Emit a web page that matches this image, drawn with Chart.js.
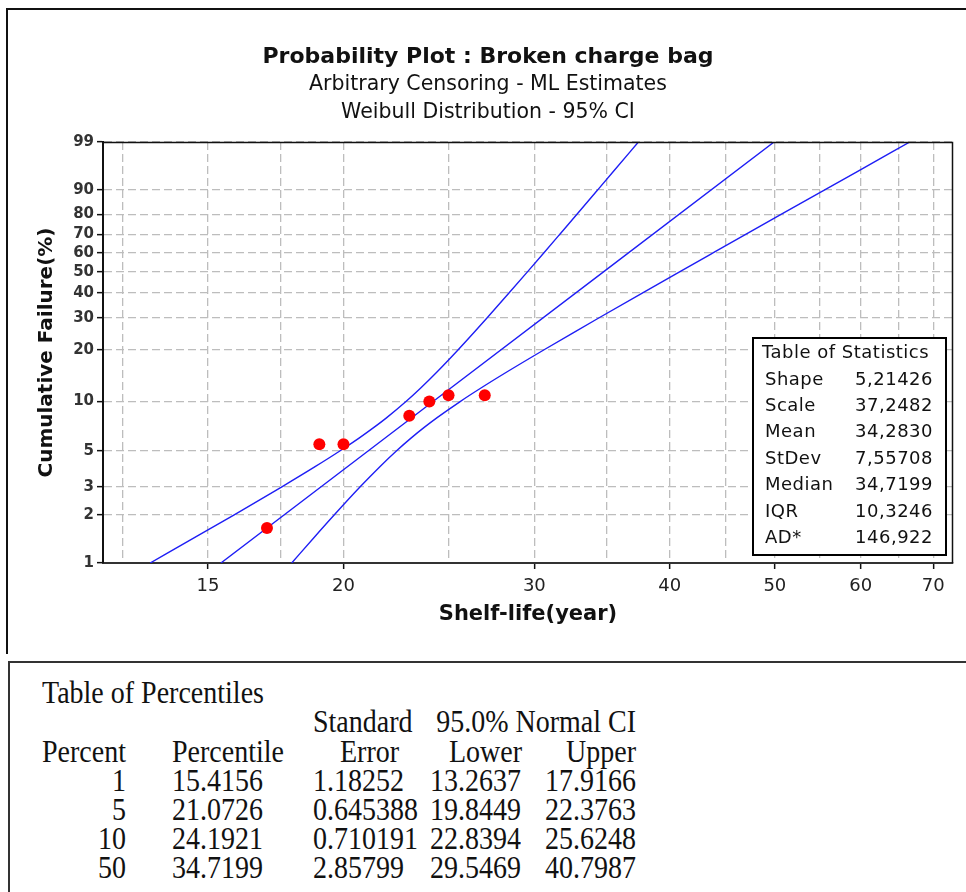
<!DOCTYPE html>
<html>
<head>
<meta charset="utf-8">
<title>Probability Plot : Broken charge bag</title>
<script src="https://cdn.jsdelivr.net/npm/chart.js@4.4.1/dist/chart.umd.min.js"></script>
<style>
  html, body { margin: 0; padding: 0; background: #fff; }
  body { width: 966px; height: 892px; position: relative; overflow: hidden; }
  #plotPanel {
    position: absolute; left: 6px; top: 8px; width: 980px; height: 644px;
    border-top: 2px solid #111; border-left: 2px solid #111;
  }
  #tablePanel {
    position: absolute; left: 8px; top: 661px; width: 980px; height: 260px;
    border-top: 2px solid #333; border-left: 2px solid #333;
  }
  #chart { position: absolute; left: 0; top: 0; }
  .cell {
    position: absolute; font-family: "Liberation Serif", "DejaVu Serif", serif;
    font-size: 28px; line-height: 29px; white-space: nowrap; color: #111;
    transform: scaleY(1.1);
  }
</style>
</head>
<body>
<div id="plotPanel"></div>
<div id="tablePanel"></div>
<canvas id="chart" width="966" height="652"></canvas>
<div id="cells"></div>
<script>
  // Observed failures (time in years, median rank in %)
  const obsTime = [17, 19, 20, 23, 24, 25, 27];
  const obsPct = [1.66, 5.5, 5.5, 8.2, 10.0, 10.9, 10.9];

  // Table of Percentiles (from the session output)
  const tablePercent = [1, 5, 10, 50];
  const tablePercentile = [15.4156, 21.0726, 24.1921, 34.7199];
  const tableStdErr = [1.18252, 0.645388, 0.710191, 2.85799];
  const tableLower = [13.2637, 19.8449, 22.8394, 29.5469];
  const tableUpper = [17.9166, 22.3763, 25.6248, 40.7987];

  // Fitted Weibull line (straight on this paper), ends at 99%
  const fitPct = [1, 5, 10, 50, 99];
  const fitTime = [15.4156, 21.0726, 24.1921, 34.7199, 49.92];

  // 95% confidence band
  const bandPct = [1, 1.5, 2, 3, 4, 5, 6, 7, 8, 10, 12, 15, 20, 25, 30, 40, 50, 60, 70, 80, 90, 95, 99];
  const bandLower = [13.264, 14.721, 15.843, 17.547, 18.829, 19.845, 20.672, 21.352, 21.926,
    22.839, 23.553, 24.405, 25.506, 26.387, 27.140, 28.424, 29.547, 30.605, 31.670, 32.840,
    34.337, 35.478, 37.419];
  const bandUpper = [17.917, 18.878, 19.607, 20.722, 21.607, 22.376, 23.084, 23.757, 24.402,
    25.625, 26.761, 28.318, 30.600, 32.605, 34.426, 37.727, 40.799, 43.840, 47.041, 50.709,
    55.639, 59.570, 66.608];

  // Axis ticks
  const yTickPct = [1, 2, 3, 5, 10, 20, 30, 40, 50, 60, 70, 80, 90, 99];
  const xGridVals = [12.5, 15, 17.5, 20, 25, 30, 35, 40, 45, 50, 55, 60, 65, 70];
  const xTickLabels = [15, 20, 30, 40, 50, 60, 70];

  // Table of Statistics
  const statLabels = ["Shape", "Scale", "Mean", "StDev", "Median", "IQR", "AD*"];
  const statValues = ["5,21426", "37,2482", "34,2830", "7,55708", "34,7199", "10,3246", "146,922"];

  const weib = (p) => Math.log(-Math.log(1 - p / 100));
  const toPoints = (xs, ps) => xs.map((x, i) => ({ x: x, y: weib(ps[i]) }));

  const BLUE = "rgb(30, 30, 245)";
  const GRID = "#bdbdbd";

  const decorPlugin = {
    id: "decor",
    afterDatasetsDraw(chart) {
      const { ctx, chartArea: a } = chart;
      ctx.save();
      ctx.strokeStyle = "#111";
      ctx.lineWidth = 1.5;
      ctx.beginPath();
      ctx.moveTo(a.left, a.top + 0.5);
      ctx.lineTo(a.right - 0.5, a.top + 0.5);
      ctx.lineTo(a.right - 0.5, a.bottom);
      ctx.stroke();
      ctx.restore();
    },
    afterDraw(chart) {
      const { ctx, chartArea: a } = chart;
      ctx.save();
      ctx.fillStyle = "#111";
      ctx.textBaseline = "middle";
      ctx.textAlign = "center";

      ctx.font = "bold 22px 'DejaVu Sans'";
      ctx.fillText("Probability Plot : Broken charge bag", 488, 57);
      ctx.font = "20.5px 'DejaVu Sans'";
      ctx.fillText("Arbitrary Censoring - ML Estimates", 488, 85);
      ctx.fillText("Weibull Distribution - 95% CI", 488, 113);

      // axis titles
      ctx.font = "bold 21px 'DejaVu Sans'";
      ctx.fillText("Shelf-life(year)", (a.left + a.right) / 2, 615);
      ctx.save();
      ctx.translate(47, (a.top + a.bottom) / 2);
      ctx.rotate(-Math.PI / 2);
      ctx.font = "bold 20px 'DejaVu Sans'";
      ctx.fillText("Cumulative Failure(%)", 0, 0);
      ctx.restore();

      // statistics box
      const bx = 752, by = 337, bw = 195, bh = 219;
      ctx.fillStyle = "#fff";
      ctx.fillRect(bx, by, bw, bh);
      ctx.strokeStyle = "#000";
      ctx.lineWidth = 2;
      ctx.strokeRect(bx + 1, by + 1, bw - 2, bh - 2);
      ctx.fillStyle = "#111";
      ctx.font = "18px 'DejaVu Sans'";
      ctx.letterSpacing = "0.5px";
      ctx.textAlign = "left";
      ctx.fillText("Table of Statistics", 762, 353);
      statLabels.forEach((lab, i) => {
        const y = 380 + i * 26.4;
        ctx.textAlign = "left";
        ctx.fillText(lab, 765, y);
        ctx.textAlign = "right";
        ctx.fillText(statValues[i], 933, y);
      });
      ctx.restore();
    },
  };

  const lineStyle = {
    showLine: true,
    borderColor: BLUE,
    borderWidth: 1.4,
    pointRadius: 0,
  };

  new Chart(document.getElementById("chart"), {
    type: "scatter",
    data: {
      datasets: [
        {
          label: "Data",
          data: toPoints(obsTime, obsPct),
          pointRadius: 6,
          pointBackgroundColor: "#ff0000",
          pointBorderWidth: 0,
          showLine: false,
        },
        Object.assign({ label: "Fit", data: toPoints(fitTime, fitPct) }, lineStyle),
        Object.assign({ label: "Lower", data: toPoints(bandLower, bandPct), cubicInterpolationMode: "monotone" }, lineStyle),
        Object.assign({ label: "Upper", data: toPoints(bandUpper, bandPct), cubicInterpolationMode: "monotone" }, lineStyle),
      ],
    },
    options: {
      responsive: false,
      animation: false,
      events: [],
      layout: { padding: { left: 0, top: 142, right: 13, bottom: 29 } },
      plugins: { legend: { display: false }, tooltip: { enabled: false } },
      scales: {
        x: {
          type: "logarithmic",
          min: 12,
          max: 73,
          afterFit: (s) => { s.height = 60; },
          afterBuildTicks: (s) => { s.ticks = xGridVals.map((v) => ({ value: v })); },
          grid: {
            color: GRID,
            lineWidth: 1.3,
            tickLength: 6,
            tickWidth: 1.5,
            tickColor: (c) => (c.tick && xTickLabels.includes(c.tick.value) ? "#111" : "rgba(0,0,0,0)"),
            tickBorderDash: [],
          },
          border: { display: true, color: "#333", width: 2, dash: [8, 4] },
          ticks: {
            autoSkip: false,
            maxRotation: 0,
            padding: 7,
            color: "#222",
            font: { family: "DejaVu Sans", size: 18 },
            callback: (v) => (xTickLabels.includes(v) ? String(v) : ""),
          },
        },
        y: {
          type: "linear",
          min: weib(1),
          max: weib(99),
          afterFit: (s) => { s.width = 103; },
          afterBuildTicks: (s) => { s.ticks = yTickPct.map((p) => ({ value: weib(p) })); },
          grid: {
            color: GRID,
            lineWidth: 1.3,
            tickLength: 6,
            tickWidth: 1.5,
            tickColor: "#111",
            tickBorderDash: [],
          },
          border: { display: true, color: "#111", width: 2, dash: [8, 4] },
          ticks: {
            autoSkip: false,
            padding: 3,
            color: "#333",
            font: { family: "DejaVu Sans", size: 15, weight: "bold" },
            callback: (v, i) => String(yTickPct[i]),
          },
        },
      },
    },
    plugins: [decorPlugin],
  });

  // Table of Percentiles, laid out as in the session window
  const cells = document.getElementById("cells");
  function cell(text, x, cy, align) {
    const d = document.createElement("div");
    d.className = "cell";
    d.textContent = text;
    d.style.top = (cy - 15) + "px";
    if (align === "right") d.style.right = (966 - x) + "px";
    else d.style.left = x + "px";
    cells.appendChild(d);
  }
  cell("Table of Percentiles", 42, 693, "left");
  cell("Standard", 313, 722, "left");
  cell("95.0% Normal CI", 636, 722, "right");
  cell("Percent", 126, 752, "right");
  cell("Percentile", 172, 752, "left");
  cell("Error", 340, 752, "left");
  cell("Lower", 522, 752, "right");
  cell("Upper", 636, 752, "right");
  tablePercent.forEach((p, i) => {
    const cy = 781 + i * 29;
    cell(String(p), 126, cy, "right");
    cell(String(tablePercentile[i]), 172, cy, "left");
    cell(String(tableStdErr[i]), 313, cy, "left");
    cell(String(tableLower[i]), 521, cy, "right");
    cell(String(tableUpper[i]), 636, cy, "right");
  });
</script>
</body>
</html>
